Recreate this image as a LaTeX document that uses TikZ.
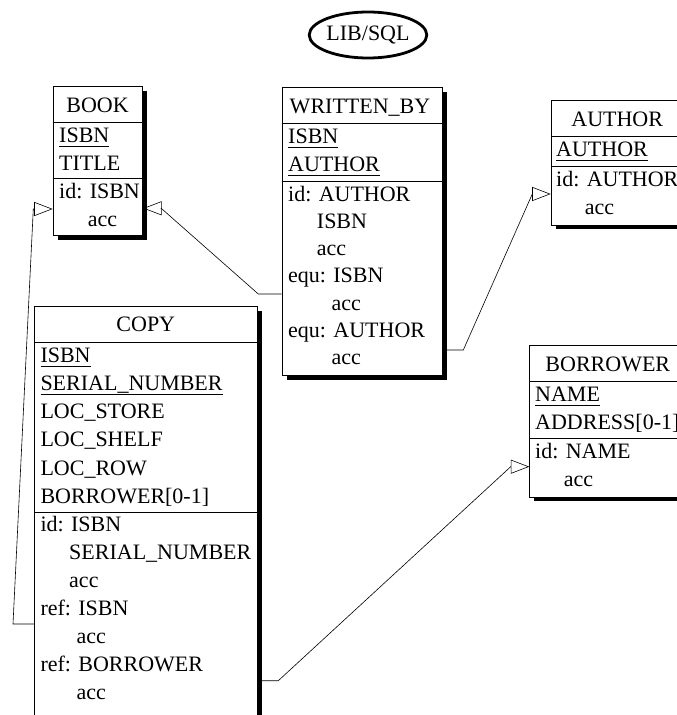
\documentclass[tikz,border=0pt]{standalone}
\usepackage{fontspec}
\setmainfont{Liberation Serif}
\usetikzlibrary{shapes.geometric,arrows.meta,shadows,calc}
\newsavebox\ulkbox
\newcommand\ulk[1]{\sbox\ulkbox{#1}\rlap{\rule[-4.6pt]{\wd\ulkbox}{0.8pt}}\usebox\ulkbox}
\newcommand\rw[4]{\node[txt] (#1) at (#2,#3) {#4};}
\newcommand\tl[4]{\node[ttl] (#1) at (#2,#3) {#4};}
\begin{document}
\begin{tikzpicture}[x=1pt,y=-1pt,
  tbl/.style={draw=black, line width=0.8pt, fill=white, inner sep=0pt, anchor=north west,
    drop shadow={shadow xshift=4.5pt, shadow yshift=-4.5pt, fill=black, opacity=1}},
  txt/.style={anchor=base west, inner sep=0pt, font=\fontsize{22}{26}\selectfont},
  ttl/.style={anchor=base, inner sep=0pt, font=\fontsize{22}{26}\selectfont},
  sepl/.style={line width=0.8pt},
  fk/.style={line width=0.6pt, -{Triangle[open, length=18.5pt, width=14pt, line width=0.6pt]}}]
\useasboundingbox (0,0) rectangle (677,715);
\clip (0,0) rectangle (677,715);

% schema title
\node[draw, ellipse, line width=2.8pt, inner sep=0pt, minimum width=116pt, minimum height=46pt,
  font=\fontsize{22}{26}\selectfont] (lib) at (368,35) {LIB/SQL};

% ---------- BOOK ----------
\node[tbl, minimum width=89.6pt, minimum height=149pt] (book) at (52.7,86) {};
\draw[sepl] ([yshift=-36pt]book.north west) -- ([yshift=-36pt]book.north east);
\draw[sepl] ([yshift=-92.5pt]book.north west) -- ([yshift=-92.5pt]book.north east);
\tl{bookT}{97.5}{112}{BOOK}
\rw{book1}{59}{142}{\ulk{ISBN}}
\rw{book2}{59}{170}{TITLE}
\rw{book3}{59}{198.5}{id: ISBN}
\rw{book4}{59}{226}{\phantom{id:} acc}

% ---------- WRITTEN_BY ----------
\node[tbl, minimum width=160.6pt, minimum height=288pt] (writ) at (281.7,87.3) {};
\draw[sepl] ([yshift=-36pt]writ.north west) -- ([yshift=-36pt]writ.north east);
\draw[sepl] ([yshift=-93.7pt]writ.north west) -- ([yshift=-93.7pt]writ.north east);
\tl{writT}{360}{113.3}{WRITTEN\_BY}
\rw{writ1}{288}{143}{\ulk{ISBN}}
\rw{writ2}{288}{171}{\ulk{AUTHOR}}
\rw{writ3}{288}{201}{id: AUTHOR}
\rw{writ4}{288}{228.3}{\phantom{id:} ISBN}
\rw{writ5}{288}{255.5}{\phantom{id:} acc}
\rw{writ6}{288}{282.7}{equ: ISBN}
\rw{writ7}{288}{310}{\phantom{equ:} acc}
\rw{writ8}{288}{337}{equ: AUTHOR}
\rw{writ9}{288}{364.5}{\phantom{equ:} acc}

% ---------- AUTHOR ----------
\node[tbl, minimum width=133pt, minimum height=124.5pt] (author) at (550.7,100) {};
\draw[sepl] ([yshift=-36.5pt]author.north west) -- ([yshift=-36.5pt]author.north east);
\draw[sepl] ([yshift=-66.5pt]author.north west) -- ([yshift=-66.5pt]author.north east);
\tl{authT}{617.2}{126}{AUTHOR}
\rw{auth1}{556}{156.5}{\ulk{AUTHOR}}
\rw{auth2}{556}{186.5}{id: AUTHOR}
\rw{auth3}{556}{214}{\phantom{id:} acc}

% ---------- COPY ----------
\node[tbl, minimum width=223pt, minimum height=420pt] (copy) at (34.3,305.7) {};
\draw[sepl] ([yshift=-36.3pt]copy.north west) -- ([yshift=-36.3pt]copy.north east);
\draw[sepl] ([yshift=-206.3pt]copy.north west) -- ([yshift=-206.3pt]copy.north east);
\tl{copyT}{145.8}{331.7}{COPY}
\rw{copy1}{40.3}{362}{\ulk{ISBN}}
\rw{copy2}{40.3}{390.3}{\ulk{SERIAL\_NUMBER}}
\rw{copy3}{40.3}{418.6}{LOC\_STORE}
\rw{copy4}{40.3}{446.9}{LOC\_SHELF}
\rw{copy5}{40.3}{475.2}{LOC\_ROW}
\rw{copy6}{40.3}{503.5}{BORROWER[0-1]}
\rw{copy7}{40.3}{531.5}{id: ISBN}
\rw{copy8}{40.3}{559.5}{\phantom{id:} SERIAL\_NUMBER}
\rw{copy9}{40.3}{587.5}{\phantom{id:} acc}
\rw{copy10}{40.3}{615.5}{ref: ISBN}
\rw{copy11}{40.3}{643.5}{\phantom{ref:} acc}
\rw{copy12}{40.3}{671.5}{ref: BORROWER}
\rw{copy13}{40.3}{699.5}{\phantom{ref:} acc}

% ---------- BORROWER ----------
\node[tbl, minimum width=157pt, minimum height=151.5pt] (borrower) at (529.3,345) {};
\draw[sepl] ([yshift=-36pt]borrower.north west) -- ([yshift=-36pt]borrower.north east);
\draw[sepl] ([yshift=-93.5pt]borrower.north west) -- ([yshift=-93.5pt]borrower.north east);
\tl{borT}{607.8}{371}{BORROWER}
\rw{bor1}{535}{401}{\ulk{NAME}}
\rw{bor2}{535}{429}{ADDRESS[0-1]}
\rw{bor3}{535}{458.5}{id: NAME}
\rw{bor4}{535}{486}{\phantom{id:} acc}

% ---------- connectors ----------
\coordinate (c1a) at (13,624);
\coordinate (c1b) at (33.3,209);
\draw[fk] (copy.west |- c1a) -- (c1a) -- (c1b) -- (book.west |- c1b);

\coordinate (c2a) at (258.3,294);
\coordinate (c2b) at (161.2,208.3);
\draw[fk] (writ.west |- c2a) -- (c2a) -- (c2b) -- (book.east |- c2b);

\coordinate (c3a) at (463.3,350);
\coordinate (c3b) at (532.3,194);
\draw[fk] (writ.east |- c3a) -- (c3a) -- (c3b) -- (author.west |- c3b);

\coordinate (c4a) at (278.3,680.7);
\coordinate (c4b) at (510.7,466.7);
\draw[fk] (copy.east |- c4a) -- (c4a) -- (c4b) -- (borrower.west |- c4b);
\end{tikzpicture}
\end{document}
